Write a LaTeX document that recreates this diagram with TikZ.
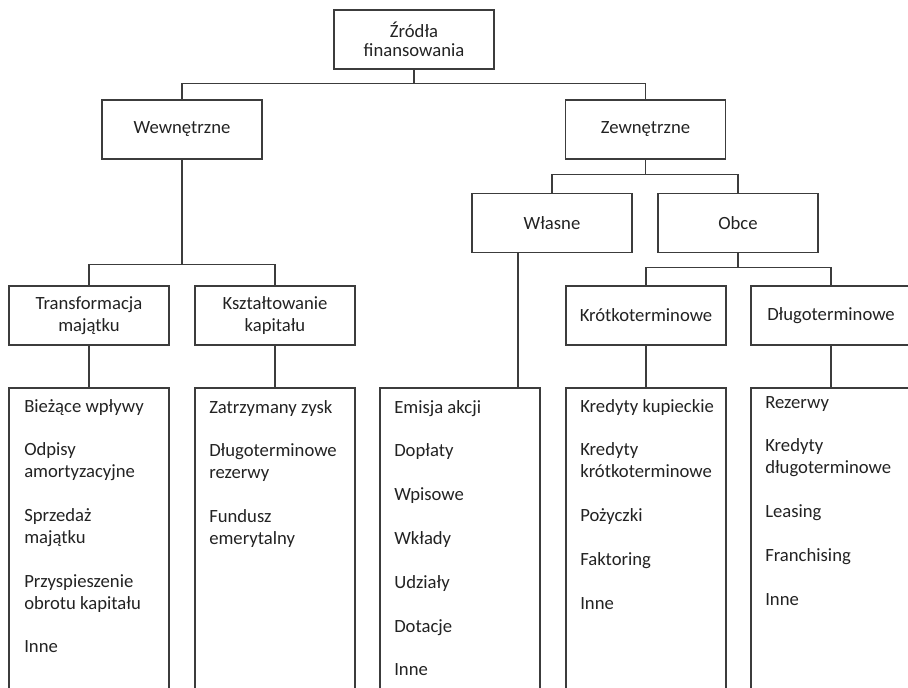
\documentclass[tikz,border=0pt]{standalone}
\usepackage{fontspec}
\setmainfont{Carlito}
\definecolor{ink}{HTML}{222222}
\definecolor{edge}{HTML}{3C3C3C}
\begin{document}
\begin{tikzpicture}[x=0.75pt,y=-0.75pt,
  every node/.style={text=ink, font=\fontsize{14}{16.4}\selectfont},
  box/.style={draw=edge, line width=1pt, minimum width=120pt, minimum height=44.25pt,
              inner sep=0pt, align=center},
  link/.style={draw=edge, line width=1pt},
  item/.style={anchor=base west, inner sep=0pt}]
\useasboundingbox (0,0) rectangle (908,687);
\clip (0,0) rectangle (908,687);

% hierarchy boxes
\node[box, font=\fontsize{14}{14.3}\selectfont] (root) at (414,39.5) {Źródła\\finansowania};
\node[box] (wew) at (182,129.5) {Wewnętrzne};
\node[box] (zew) at (645.5,129.5) {Zewnętrzne};
\node[box] (wla) at (552,223) {Własne};
\node[box] (obc) at (738,223) {Obce};
\node[box] (tra) at (89,315.5) {Transformacja\\majątku};
\node[box] (ksz) at (275,315.5) {Kształtowanie\\kapitału};
\node[box] (kro) at (646,315.5) {Krótkoterminowe};
\node[box] (dlu) at (831,315.5) {Długoterminowe};

% elbow connectors
\draw[link] (root.south) -- ++(0,14) -| (wew.north);
\draw[link] (root.south) -- ++(0,14) -| (zew.north);
\draw[link] (wew.south) -- ++(0,105) -| (tra.north);
\draw[link] (wew.south) -- ++(0,105) -| (ksz.north);
\draw[link] (zew.south) -- ++(0,15) -| (wla.north);
\draw[link] (zew.south) -- ++(0,15) -| (obc.north);
\draw[link] (obc.south) -- ++(0,14) -| (kro.north);
\draw[link] (obc.south) -- ++(0,14) -| (dlu.north);

% open list frames running off the bottom edge
\draw[link] (9,690) |- (169,388) -- (169,690);
\draw[link] (195,690) |- (355,388) -- (355,690);
\draw[link] (380,690) |- (540,388) -- (540,690);
\draw[link] (566,690) |- (726,388) -- (726,690);
\draw[link] (751,690) |- (911,388) -- (911,690);

\coordinate (l1) at (89,388);
\coordinate (l2) at (275,388);
\coordinate (l3) at (518,388);
\coordinate (l4) at (646,388);
\coordinate (l5) at (831,388);
\draw[link] (tra.south) -- (l1);
\draw[link] (ksz.south) -- (l2);
\draw[link] (l3 |- wla.south) -- (l3);
\draw[link] (kro.south) -- (l4);
\draw[link] (dlu.south) -- (l5);

% list entries
\foreach \k/\t in {0/Bieżące wpływy, 2/Odpisy, 3/amortyzacyjne, 5/Sprzedaż, 6/majątku,
                   8/Przyspieszenie, 9/obrotu kapitału, 11/Inne}
  \node[item] (a\k) at (24,{412+\k*21.9}) {\t};
\foreach \k/\t in {0/Zatrzymany zysk, 2/Długoterminowe, 3/rezerwy, 5/Fundusz, 6/emerytalny}
  \node[item] (b\k) at (209,{413+\k*21.9}) {\t};
\foreach \k/\t in {0/Emisja akcji, 2/Dopłaty, 4/Wpisowe, 6/Wkłady, 8/Udziały, 10/Dotacje, 12/Inne}
  \node[item] (c\k) at (394,{413+\k*21.9}) {\t};
\foreach \k/\t in {0/Kredyty kupieckie, 2/Kredyty, 3/krótkoterminowe, 5/Pożyczki, 7/Faktoring, 9/Inne}
  \node[item] (d\k) at (580,{412+\k*21.9}) {\t};
\foreach \k/\t in {0/Rezerwy, 2/Kredyty, 3/długoterminowe, 5/Leasing, 7/Franchising, 9/Inne}
  \node[item] (e\k) at (765,{408+\k*21.9}) {\t};
\end{tikzpicture}
\end{document}
